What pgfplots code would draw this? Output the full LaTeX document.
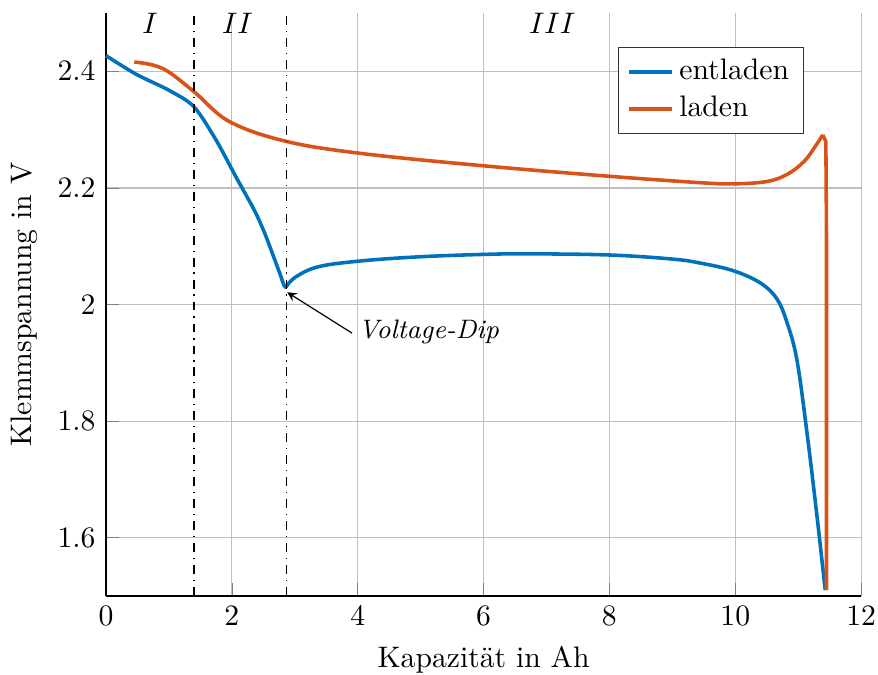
\documentclass[border=0pt]{standalone}
\usepackage{pgfplots}
\pgfplotsset{compat=1.18}
\usetikzlibrary{calc}
\definecolor{mblue}{rgb}{0,0.447,0.741}
\definecolor{mred}{rgb}{0.85,0.325,0.098}
\begin{document}
\begin{tikzpicture}
\begin{axis}[
  scale only axis,
  width=254.4pt, height=196.4pt,
  xmin=0, xmax=12, ymin=1.5, ymax=2.5,
  xtick={0,2,...,12},
  ytick={1.6,1.8,2,2.2,2.4},
  axis x line*=bottom, axis y line*=left,
  axis line style={-},
  xmajorgrids, ymajorgrids,
  grid style={gray!50},
  xlabel={Kapazit\"at in Ah},
  ylabel={Klemmspannung in V},
  xlabel style={name=xlab},
  ylabel style={name=ylab},
  tick align=inside,
  legend style={at={(0.925,0.942)}, anchor=north east, draw=black!80, font=\normalsize},
  legend image code/.code={\draw[#1] (0cm,0cm) -- (0.5cm,0cm);},
  legend cell align=left,
  clip=false,
]
\addplot[mblue, line width=1.2pt, smooth, tension=0.5] coordinates {
(0,2.427) (0.48,2.395) (1.01,2.367) (1.40,2.339) (1.75,2.282) (2.06,2.220)
(2.22,2.189) (2.38,2.157) (2.52,2.123) (2.64,2.089) (2.75,2.057) (2.83,2.033) (2.86,2.030)
};
\addlegendentry{entladen}
\addplot[mred, line width=1.2pt, smooth, tension=0.6] coordinates {
(0.45,2.416) (0.90,2.405) (1.40,2.365) (1.96,2.314) (2.86,2.280) (4.07,2.259)
(6,2.238) (8,2.220) (9.45,2.209) (9.97,2.207) (10.5,2.211) (10.82,2.223)
(11.09,2.245) (11.27,2.271) (11.39,2.291)
};
\addlegendentry{laden}
\addplot[mblue, line width=1.2pt, smooth, tension=0.6, forget plot] coordinates {
(2.86,2.030) (3.01,2.047) (3.38,2.065) (4.07,2.075) (5,2.082) (6,2.086)
(6.7,2.087) (8,2.085) (9.0,2.078) (9.45,2.071) (9.97,2.058) (10.4,2.037)
(10.66,2.010) (10.82,1.970) (10.98,1.905) (11.14,1.78) (11.30,1.636) (11.43,1.51)
};
\addplot[mred, line width=1.2pt, forget plot] coordinates {
(11.39,2.291) (11.44,2.280) (11.45,2.12) (11.45,1.51)
};
\addplot[black, thin, dash dot, forget plot] coordinates {(1.40,1.5) (1.40,2.5)};
\addplot[black, thin, dash dot, forget plot] coordinates {(2.87,1.5) (2.87,2.5)};
\node at (axis cs:0.70,2.482) {$I$};
\node at (axis cs:2.09,2.482) {$II$};
\node at (axis cs:7.09,2.482) {$III$};
\draw[-stealth, thin] (axis cs:3.91,1.951) -- (axis cs:2.88,2.021);
\node[anchor=west, inner sep=0pt, font=\small] at (axis cs:4.0,1.953) {\textit{Voltage-Dip}};
\end{axis}
\pgfresetboundingbox
\path[use as bounding box] ($(ylab.north |- xlab.south)+(0,3.1pt)$) rectangle ($(current axis.north east)+(5.7pt,4.4pt)$);
\end{tikzpicture}
\end{document}
